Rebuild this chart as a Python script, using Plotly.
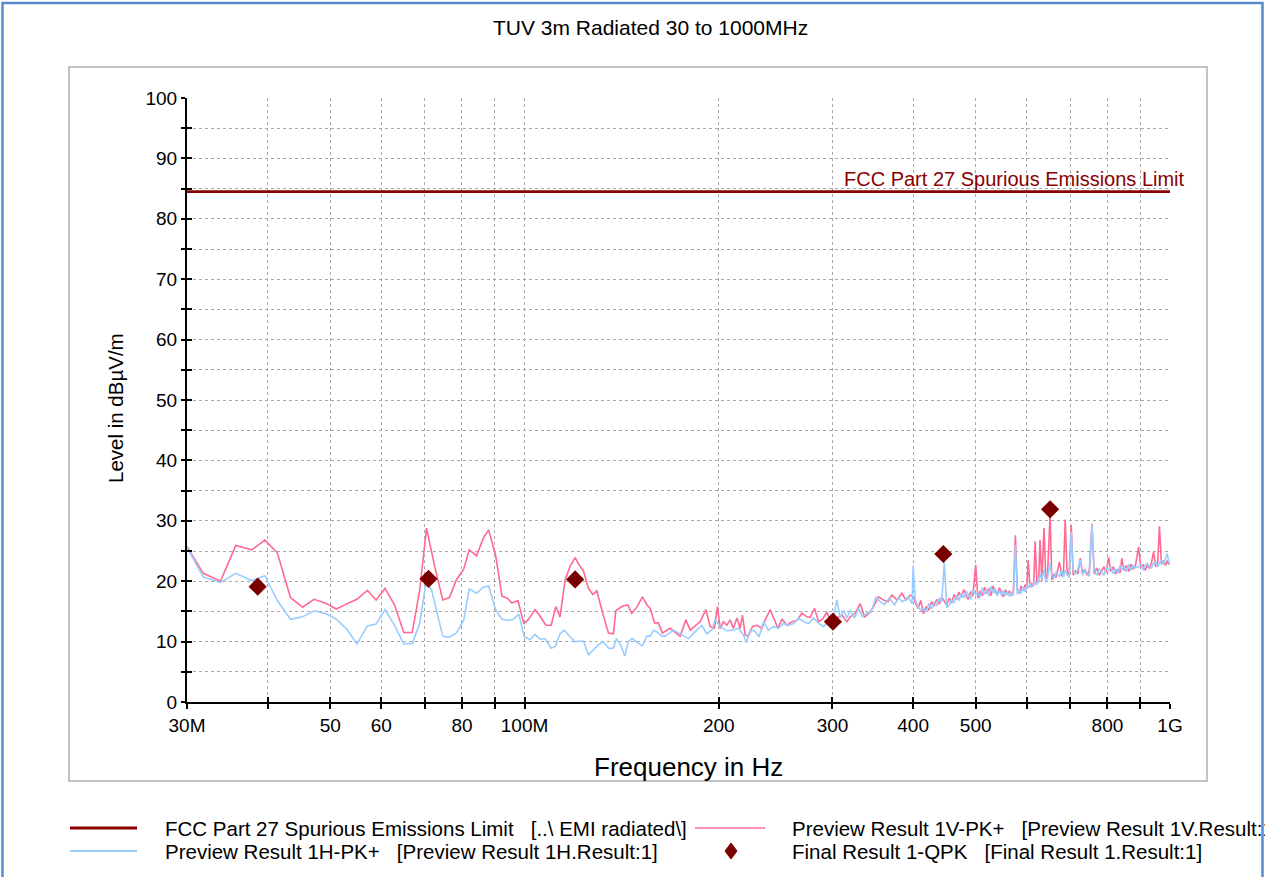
import plotly.graph_objects as go

# ---------------- data (frequency in MHz, level in dBuV/m) ----------------
LIMIT_FREQ = [30, 1000]
LIMIT_LEVEL = [84.5, 84.5]

# Preview Result 1V-PK+ (vertical polarisation), low band trace
V_FREQ_LOW = [30.0, 31.8, 33.8, 35.7, 37.8, 39.6, 41.4, 43.4, 45.3, 47.2, 49.3, 51.1,
              52.9, 55.0, 57.1, 58.9, 60.8, 62.9, 65.0, 67.0, 68.8, 70.5, 72.6, 74.7,
              76.5, 78.4, 80.5, 82.1, 84.3, 86.3, 88.0, 90.2, 92.3, 94.1, 95.6, 97.7,
              99.8, 101.6, 103.8, 105.7, 107.9, 110.0, 111.8, 113.5, 115.6, 117.6, 119.8,
              121.5, 123.4, 125.6, 127.6, 129.4, 131.8, 134.9, 137.3, 138.5, 141.5, 144.5,
              146.6, 149.3, 152.3, 154.7, 156.6, 159.0, 161.2, 163.6, 168.1, 171.1, 174.2,
              177.8, 180.6, 183.8, 187.1, 191.0, 193.9, 196.9, 199.0, 201.0, 203.3, 205.8,
              208.3, 210.7, 213.3, 215.8, 217.6, 219.7, 222.3, 225.5, 229.0, 233.2, 236.0,
              240.2, 243.1, 246.9, 250.5, 255.0, 259.6, 264.2, 269.0, 273.9, 277.1, 281.4,
              285.4, 289.5, 294.1, 299.4, 304.7, 310.3, 315.8, 319.6, 325.4, 331.2, 336.3,
              342.0, 347.3, 353.6, 359.9, 365.6, 370.9, 377.5, 384.4, 389.8, 395.9, 400.0]
V_LEVEL_LOW = [25.7, 21.3, 20.0, 25.9, 25.2, 26.8, 24.7, 17.3, 15.7, 17.0, 16.3, 15.4,
               16.2, 17.0, 18.5, 16.9, 18.8, 16.1, 11.5, 11.5, 18.5, 28.8, 22.4, 16.9,
               17.3, 20.2, 22.0, 25.2, 24.2, 27.1, 28.5, 24.3, 17.5, 17.2, 16.4, 16.8,
               12.9, 13.8, 15.3, 14.2, 12.7, 12.7, 15.8, 14.1, 20.2, 22.4, 23.9,
               22.7, 21.7, 18.8, 17.8, 18.4, 15.2, 11.4, 11.3, 15.1, 15.8, 16.1,
               14.7, 15.7, 17.4, 16.1, 15.5, 13.1, 13.1, 11.4, 12.2, 11.6, 10.9,
               13.6, 11.9, 12.6, 13.3, 15.3, 12.5, 12.2, 15.8, 12.2, 13.3, 12.7,
               13.6, 12.2, 13.9, 12.2, 14.4, 11.1, 10.9, 12.5, 12.7, 12.2, 13.6,
               15.3, 13.9, 12.2, 13.7, 12.7, 13.3, 13.5, 14.7, 14.1, 14.0, 15.5,
               13.3, 13.7, 14.9, 12.7, 13.9, 14.4, 13.3, 14.1, 14.7, 16.3, 14.1,
               14.7, 15.8, 17.4, 16.9, 16.6, 17.7, 16.9, 18.0, 16.9, 17.7, 17.5]

# Preview Result 1H-PK+ (horizontal polarisation), low band trace
H_FREQ_LOW = [30.0, 31.8, 33.8, 35.7, 37.8, 39.6, 41.4, 43.4, 45.3, 47.2, 49.3, 51.1,
              53.1, 55.0, 57.1, 58.9, 60.8, 62.9, 65.0, 67.0, 68.8, 70.4, 71.8, 73.3,
              74.7, 76.3, 78.4, 80.5, 82.1, 84.3, 86.3, 88.0, 90.2, 92.3, 94.5, 96.1,
              98.0, 99.8, 101.9, 103.8, 105.7, 107.6, 110.0, 111.6, 113.5, 115.3, 117.6,
              119.8, 123.4, 125.6, 127.8, 130.0, 132.3, 135.0, 137.3, 138.8, 141.0, 143.0,
              144.8, 146.9, 149.8, 152.3, 154.7, 156.6, 158.5, 160.9, 163.1, 165.2, 170.1,
              174.2, 179.5, 183.8, 188.2, 191.6, 195.1, 197.4, 201.0, 205.8, 210.7, 214.5,
              218.4, 220.5, 223.7, 227.1, 230.9, 234.5, 238.7, 243.1, 247.4, 251.9, 256.4,
              261.1, 265.7, 270.6, 275.4, 280.4, 285.4, 290.6, 295.7, 301.1, 304.7, 308.3,
              312.0, 315.8, 319.6, 324.5, 329.2, 333.9, 339.2, 344.5, 350.3, 355.7, 361.2,
              367.4, 374.4, 379.8, 385.2, 392.7, 398.4, 400.0]
H_LEVEL_LOW = [25.6, 20.7, 19.8, 21.3, 20.1, 20.9, 16.8, 13.7, 14.1, 15.1, 14.6, 13.7,
               12.0, 9.6, 12.6, 12.9, 15.3, 12.7, 9.6, 9.7, 13.0, 19.9, 18.5, 14.7,
               10.9, 10.7, 11.4, 13.5, 18.7, 18.0, 19.0, 19.2, 15.3, 13.7, 13.5, 13.7,
               14.6, 10.9, 10.3, 11.2, 10.4, 10.5, 8.9, 9.2, 11.3, 11.9, 10.8,
               10.0, 10.1, 7.8, 8.6, 9.4, 10.0, 8.9, 8.9, 10.5, 9.4, 7.6,
               10.0, 10.5, 9.8, 9.3, 10.9, 10.9, 11.9, 11.5, 10.9, 10.9, 11.9,
               11.3, 10.5, 11.6, 12.7, 11.3, 11.9, 13.6, 12.5, 11.8, 11.9, 12.2,
               11.1, 9.8, 11.9, 11.8, 10.8, 13.3, 11.9, 12.5, 12.2, 13.0, 12.7,
               13.0, 13.9, 13.3, 13.0, 13.9, 13.0, 12.5, 13.3, 14.1, 16.9, 13.9,
               15.2, 13.9, 15.2, 13.9, 15.5, 14.1, 14.7, 14.9, 17.4, 16.6, 16.1,
               17.2, 16.1, 17.2, 16.6, 17.4, 16.3, 22.6]

# High band scan points shared by both polarisations
HIGH_FREQ = [403, 407, 411, 415, 419, 423, 427, 431, 435, 439, 443, 447, 451, 455, 459,
             463, 467, 471, 475, 479, 483, 487, 491, 495, 500, 504, 508, 512, 516, 520,
             524, 528, 532, 536, 540, 544, 548, 552, 556, 560, 564, 568, 572, 576, 580,
             584, 588, 592, 596, 600, 603, 607, 611, 615, 618, 622, 626, 629, 633, 638,
             642, 646, 652, 656, 661, 666, 674, 680, 684, 688, 693, 698, 703, 708, 714,
             720, 726, 732, 738, 744, 750, 757, 763, 770, 777, 784, 790, 797, 803, 810,
             817, 824, 831, 837, 842, 849, 856, 863, 870, 877, 884, 894, 901, 908, 915,
             922, 929, 936, 943, 950, 957, 963, 970, 977, 984, 990, 995, 1000]
V_LEVEL_HIGH = [16.5, 15.5, 16.8, 14.6, 15.8, 15.2, 16.6, 15.9, 17.0, 16.2, 17.4, 16.8, 16.0, 17.2, 16.4,
                17.8, 17.0, 18.2, 17.4, 18.6, 17.6, 17.0, 18.3, 17.5, 22.7, 17.2, 18.4, 17.6, 19.0, 18.0,
                18.8, 17.6, 19.2, 18.2, 17.8, 18.9, 18.0, 17.4, 18.6, 17.8, 18.4, 17.6, 18.5, 27.6, 18.6,
                18.0, 19.2, 18.4, 19.4, 18.8, 23.5, 19.0, 19.6, 19.2, 26.6, 19.8, 20.2, 26.8, 20.0, 28.8,
                20.4, 21.0, 31.0, 20.2, 21.2, 20.6, 23.2, 20.8, 21.5, 30.2, 20.9, 21.6, 29.3, 21.0, 21.8,
                21.2, 23.8, 21.4, 22.0, 21.0, 21.8, 29.5, 21.2, 22.2, 21.0, 21.8, 22.4, 21.4, 24.0, 21.6,
                22.4, 21.2, 22.0, 21.4, 23.8, 21.8, 22.6, 21.6, 22.8, 22.0, 22.6, 25.7, 22.2, 22.8, 21.8,
                22.6, 22.2, 23.0, 24.9, 22.4, 23.0, 29.1, 22.8, 23.4, 22.6, 23.4, 22.8, 23.2]
H_LEVEL_HIGH = [17.0, 15.8, 15.2, 15.5, 14.9, 16.3, 15.4, 16.5, 16.0, 17.2, 16.6, 23.2, 15.6, 16.0, 16.9,
                16.5, 17.6, 16.8, 18.0, 17.2, 18.4, 17.8, 17.0, 18.6, 17.8, 18.0, 17.3, 18.9, 17.8, 18.6,
                17.5, 19.2, 18.0, 18.8, 17.6, 18.4, 17.7, 18.5, 17.6, 18.2, 17.5, 18.0, 17.8, 26.0, 17.8,
                18.6, 18.0, 19.0, 18.2, 19.2, 19.0, 19.5, 19.0, 19.8, 20.0, 19.4, 20.6, 21.0, 20.3, 22.0,
                19.8, 20.6, 23.0, 21.0, 20.4, 21.4, 20.8, 21.8, 20.6, 21.8, 21.2, 20.6, 28.2, 21.8, 21.2,
                22.0, 23.5, 21.0, 21.8, 21.4, 20.8, 29.3, 21.6, 21.0, 22.0, 21.4, 21.0, 22.2, 21.8, 22.4,
                21.2, 22.0, 21.4, 22.6, 21.8, 22.4, 21.6, 22.8, 21.8, 22.6, 22.2, 22.4, 22.8, 21.8, 22.6,
                23.0, 22.4, 22.2, 23.0, 23.2, 22.4, 23.0, 23.4, 22.8, 23.6, 24.6, 23.4, 22.8]

# Final Result 1-QPK
QPK_FREQ = [38.6, 71.0, 119.8, 300.5, 445.5, 652.0]
QPK_LEVEL = [19.1, 20.4, 20.3, 13.3, 24.5, 31.9]

# Axis ticks
X_TICKS = [30, 40, 50, 60, 70, 80, 90, 100, 200, 300, 400, 500, 600, 700, 800, 900, 1000]
X_TICK_TEXT = ["30M", "", "50", "60", "", "80", "", "100M", "200", "300", "400", "500",
               "", "", "800", "", "1G"]
Y_TICKS = list(range(0, 101, 5))
Y_TICK_TEXT = [str(v) if v % 10 == 0 else "" for v in Y_TICKS]

# ---------------- styling ----------------
FONT = "Liberation Sans, Arial, sans-serif"
LIMIT_COLOR = "#8b0000"
V_COLOR = "#ff6a92"
H_COLOR = "#99ccff"
QPK_COLOR = "#7a0000"

W, H = 1265, 877
ML, MR, MT, MB = 187, 95, 98, 175
PW, PH = W - ML - MR, H - MT - MB


def px(x):
    return (x - ML) / PW


def py(y):
    return (H - MB - y) / PH


fig = go.Figure()

fig.add_trace(go.Scatter(x=V_FREQ_LOW + HIGH_FREQ, y=V_LEVEL_LOW + V_LEVEL_HIGH,
                         mode="lines", line=dict(color=V_COLOR, width=1.6),
                         name="Preview Result 1V-PK+"))
fig.add_trace(go.Scatter(x=H_FREQ_LOW + HIGH_FREQ, y=H_LEVEL_LOW + H_LEVEL_HIGH,
                         mode="lines", line=dict(color=H_COLOR, width=1.6),
                         name="Preview Result 1H-PK+"))
fig.add_trace(go.Scatter(x=QPK_FREQ, y=QPK_LEVEL, mode="markers",
                         marker=dict(symbol="diamond", size=14, color=QPK_COLOR),
                         name="Final Result 1-QPK"))
# limit line lives on the overlay axes that carry the inner tick marks
fig.add_trace(go.Scatter(x=LIMIT_FREQ, y=LIMIT_LEVEL, mode="lines",
                         line=dict(color=LIMIT_COLOR, width=2.6),
                         xaxis="x2", yaxis="y2",
                         name="FCC Part 27 Spurious Emissions Limit"))

tickfont = dict(family=FONT, size=19, color="black")
xr = [1.4771212547, 3.0]
grid = dict(showgrid=True, gridcolor="#a8a8a8", gridwidth=1, griddash="dot")

fig.update_layout(
    width=W, height=H, autosize=False,
    margin=dict(l=ML, r=MR, t=MT, b=MB, pad=0),
    paper_bgcolor="white", plot_bgcolor="rgba(0,0,0,0)",
    showlegend=False,
    xaxis=dict(type="log", range=xr, tickmode="array", tickvals=X_TICKS,
               ticktext=X_TICK_TEXT, ticks="outside", ticklen=5, tickwidth=1.5,
               tickcolor="black", showline=True, linecolor="black", linewidth=2,
               zeroline=False, tickfont=tickfont, **grid),
    yaxis=dict(range=[0, 100], tickmode="array", tickvals=Y_TICKS,
               ticktext=Y_TICK_TEXT, ticks="outside", ticklen=4, tickwidth=1.5,
               tickcolor="black", showline=True, linecolor="black", linewidth=2,
               zeroline=False, tickfont=tickfont, **grid),
    xaxis2=dict(type="log", range=xr, overlaying="x", anchor="y2", side="bottom",
                tickmode="array", tickvals=X_TICKS, ticks="inside", ticklen=5,
                tickwidth=1.5, tickcolor="black", showticklabels=False,
                showgrid=False, showline=False, zeroline=False),
    yaxis2=dict(range=[0, 100], overlaying="y", anchor="x2", side="left",
                tickmode="array", tickvals=Y_TICKS, ticks="inside", ticklen=5,
                tickwidth=1.5, tickcolor="black", showticklabels=False,
                showgrid=False, showline=False, zeroline=False),
)

annotations = [
    dict(text="TUV 3m Radiated 30 to 1000MHz", x=px(650), y=py(27),
         font=dict(family=FONT, size=21, color="black")),
    dict(text="Frequency in Hz", x=px(688), y=py(767),
         font=dict(family=FONT, size=26, color="black")),
    dict(text="Level in dBµV/m", x=px(115), y=py(408), textangle=-90,
         font=dict(family=FONT, size=20.5, color="black")),
    dict(text="FCC Part 27 Spurious Emissions Limit", x=px(1187), y=py(179),
         xanchor="right", font=dict(family=FONT, size=20, color=LIMIT_COLOR)),
]
NB = "\u00a0"
legend_rows = [
    (828, 163, "FCC Part 27 Spurious Emissions Limit" + NB * 3 + "[..\\ EMI radiated\\]"),
    (828, 790, "Preview Result 1V-PK+" + NB * 3 + "[Preview Result 1V.Result:1]"),
    (851, 163, "Preview Result 1H-PK+" + NB * 3 + "[Preview Result 1H.Result:1]"),
    (851, 790, "Final Result 1-QPK" + NB * 3 + "[Final Result 1.Result:1]"),
]
for yy, xx, txt in legend_rows:
    annotations.append(dict(text=txt, x=px(xx), y=py(yy), xanchor="left",
                            font=dict(family=FONT, size=20.5, color="black")))
for a in annotations:
    a.setdefault("xanchor", "center")
    a.update(xref="paper", yref="paper", yanchor="middle", showarrow=False)
fig.update_layout(annotations=annotations)

shapes = [
    # outer blue border
    dict(type="rect", x0=px(2.5), x1=px(1262.5), y0=py(3), y1=py(900),
         line=dict(color="#5a8bd0", width=2.5)),
    # chart frame
    dict(type="rect", x0=px(69), x1=px(1207), y0=py(67), y1=py(781),
         line=dict(color="#b0b0b0", width=1.5)),
    # legend samples
    dict(type="line", x0=px(70), x1=px(137), y0=py(828), y1=py(828),
         line=dict(color=LIMIT_COLOR, width=3)),
    dict(type="line", x0=px(695), x1=px(765), y0=py(828), y1=py(828),
         line=dict(color=V_COLOR, width=1.6)),
    dict(type="line", x0=px(70), x1=px(137), y0=py(851), y1=py(851),
         line=dict(color=H_COLOR, width=2)),
    dict(type="path",
         path=f"M {px(731)} {py(843)} L {px(737)} {py(851)} L {px(731)} {py(859)} "
              f"L {px(725)} {py(851)} Z",
         fillcolor=QPK_COLOR, line=dict(color=QPK_COLOR, width=1)),
]
for s in shapes:
    s.update(xref="paper", yref="paper", layer="above")
fig.update_layout(shapes=shapes)

fig.write_html("out.html")
